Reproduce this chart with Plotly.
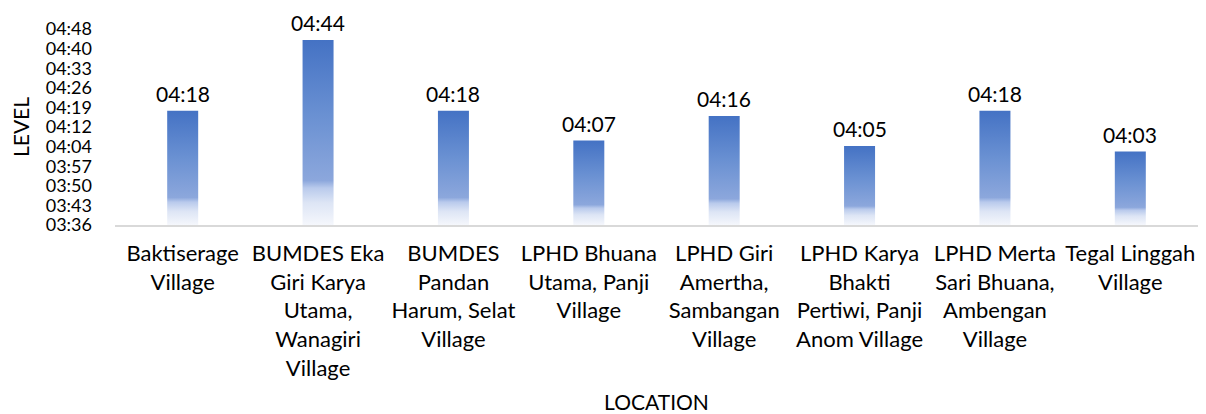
import plotly.graph_objects as go

categories = [
    "Baktiserage<br>Village",
    "BUMDES Eka<br>Giri Karya<br>Utama,<br>Wanagiri<br>Village",
    "BUMDES<br>Pandan<br>Harum, Selat<br>Village",
    "LPHD Bhuana<br>Utama, Panji<br>Village",
    "LPHD Giri<br>Amertha,<br>Sambangan<br>Village",
    "LPHD Karya<br>Bhakti<br>Pertiwi, Panji<br>Anom Village",
    "LPHD Merta<br>Sari Bhuana,<br>Ambengan<br>Village",
    "Tegal Linggah<br>Village",
]
level_labels = ["04:18", "04:44", "04:18", "04:07", "04:16", "04:05", "04:18", "04:03"]
y_tick_labels = ["03:36", "03:43", "03:50", "03:57", "04:04", "04:12",
                 "04:19", "04:26", "04:33", "04:40", "04:48"]
y_min_minutes = 216.0     # 03:36
y_step_minutes = 7.2      # Excel major unit 0.005 day


def to_minutes(s):
    h, m = s.split(":")
    return int(h) * 60 + int(m)


values = [to_minutes(s) for s in level_labels]
xs = list(range(len(categories)))
y_tick_vals = [y_min_minutes + i * y_step_minutes for i in range(len(y_tick_labels))]
y_max = y_tick_vals[-1]

FONT = "Lato"
bar_w = 0.229
grad = [[0.0, "#f5f7fc"], [0.12, "#dde5f5"], [0.2, "#b9caec"],
        [0.24, "#8ca7dc"], [0.6, "#6990d2"], [1.0, "#4472c4"]]

fig = go.Figure()
for x, v in zip(xs, values):
    fig.add_trace(go.Scatter(
        x=[x - bar_w / 2, x + bar_w / 2, x + bar_w / 2, x - bar_w / 2, x - bar_w / 2],
        y=[y_min_minutes, y_min_minutes, v, v, y_min_minutes],
        mode="lines", fill="toself", line=dict(width=0, color="rgba(0,0,0,0)"),
        fillgradient=dict(type="vertical", colorscale=grad),
        hoverinfo="skip", showlegend=False,
    ))

fig.add_trace(go.Bar(
    x=xs, y=[v - y_min_minutes for v in values], base=y_min_minutes,
    width=bar_w, marker=dict(color="rgba(0,0,0,0)", line=dict(width=0)),
    hovertext=level_labels, hoverinfo="text", showlegend=False,
))

for x, v, lab in zip(xs, values, level_labels):
    fig.add_annotation(x=x, y=v, text=lab, showarrow=False, yanchor="bottom",
                       yshift=3, font=dict(family=FONT, size=21, color="#000000"))

# page body has an 8px default margin, so the figure is sized/offset to compensate
fig.update_layout(
    width=1198, height=406,
    margin=dict(l=107, r=8, t=21, b=189, autoexpand=False),
    paper_bgcolor="white", plot_bgcolor="white",
    font=dict(family=FONT, size=21, color="#000000"),
    showlegend=False,
    xaxis=dict(
        tickmode="array", tickvals=xs, ticktext=categories,
        range=[-0.5, len(categories) - 0.5],
        showgrid=False, zeroline=False, automargin=False,
        showline=True, linecolor="#d9d9d9", linewidth=1.5,
        ticks="", tickfont=dict(family=FONT, size=22, color="#000000"),
        ticklabelstandoff=8,
        title=dict(text="LOCATION", font=dict(family=FONT, size=21, color="#000000"), standoff=17),
    ),
    yaxis=dict(
        tickmode="array", tickvals=y_tick_vals, ticktext=y_tick_labels,
        range=[y_min_minutes, y_max],
        showgrid=False, zeroline=False, showline=False, ticks="", automargin=False,
        tickfont=dict(family=FONT, size=18, color="#000000"),
        ticklabelstandoff=22,
        title=dict(text="LEVEL", font=dict(family=FONT, size=21, color="#000000"), standoff=21),
    ),
)

fig.write_html("out.html")
